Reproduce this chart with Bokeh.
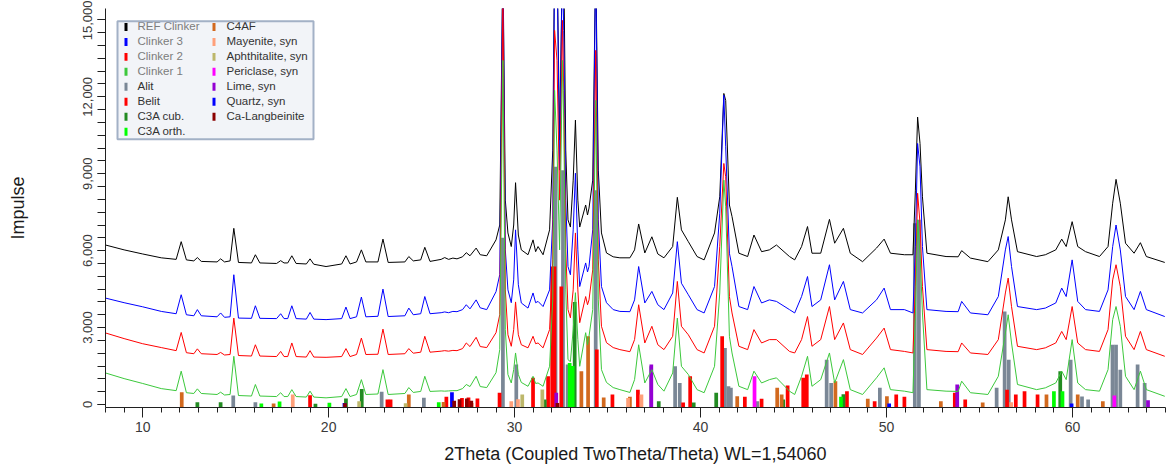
from bokeh.plotting import figure
from bokeh.models import Range1d, SingleIntervalTicker, NumeralTickFormatter
from bokeh.core.properties import value
from bokeh.embed import file_html
from bokeh.resources import INLINE

# ---------------- data ----------------
TWO_THETA = [
    8.0, 9.0, 10.0, 11.0, 11.8, 12.07, 12.35, 12.75, 12.94, 13.15,
    14.0, 14.19, 14.4, 14.7, 14.9, 15.15, 15.85, 16.06, 16.3, 17.2,
    17.42, 17.6, 17.8, 18.02, 18.25, 18.8, 19.0, 19.2, 19.86, 20.7,
    20.93, 21.15, 21.5, 21.76, 22.0, 22.65, 22.92, 23.2, 24.1, 24.31,
    24.55, 24.95, 25.17, 25.45, 26.05, 26.24, 26.45, 26.68, 26.9, 27.2,
    27.4, 27.6, 27.93, 28.15, 28.5, 29.0, 29.2, 29.37, 29.5, 29.64,
    29.82, 29.95, 30.05, 30.2, 30.36, 30.72, 30.99, 31.13, 31.26, 31.53,
    31.88, 32.05, 32.15, 32.28, 32.42, 32.57, 32.64, 32.75, 32.87, 33.0,
    33.15, 33.27, 33.4, 33.5, 33.82, 33.92, 34.0, 34.2, 34.36, 34.5,
    34.67, 34.94, 35.3, 35.66, 36.2, 36.45, 36.67, 37.0, 37.38, 37.7,
    38.03, 38.5, 38.75, 38.97, 39.34, 39.81, 40.19, 40.75, 41.03, 41.25,
    41.35, 41.55, 41.69, 42.06, 42.53, 42.87, 43.28, 43.7, 44.08, 44.78,
    45.06, 45.43, 45.75, 45.99, 46.46, 46.93, 47.21, 47.68, 48.05, 48.71,
    49.46, 49.87, 50.21, 50.96, 51.42, 51.55, 51.67, 51.8, 51.93, 52.17,
    53.2, 53.85, 54.04, 54.51, 55.45, 56.01, 56.39, 56.54, 56.72, 57.04,
    58.07, 58.54, 59.1, 59.42, 59.66, 59.98, 60.28, 60.7, 61.45, 61.91,
    62.16, 62.34, 62.57, 62.85, 63.31, 63.65, 63.97, 64.96,
]

REF_CLINKER = [
    6220, 6030, 5870, 5720, 5660, 6350, 5640, 5600, 5730, 5580,
    5560, 5680, 5560, 5600, 6870, 5540, 5520, 5840, 5520, 5500,
    5610, 5520, 5520, 5800, 5500, 5480, 5680, 5470, 5380, 5480,
    5800, 5480, 5560, 6030, 5560, 5560, 6450, 5540, 5560, 5770,
    5600, 5640, 6130, 5580, 5660, 5730, 5660, 5710, 5680, 5760,
    5920, 5800, 6100, 5840, 5800, 6420, 7000, 17500, 7970, 6690,
    6160, 7000, 8650, 6610, 6030, 5840, 6420, 5960, 6160, 5840,
    6810, 9920, 17500, 17500, 10310, 17500, 17500, 9920, 7200, 6920,
    8750, 11090, 7970, 6920, 7780, 7390, 7660, 8750, 17500, 9140,
    6690, 5910, 5760, 5720, 5720, 6030, 7040, 5910, 6540, 5870,
    5720, 6160, 8080, 6810, 6350, 5770, 5640, 6690, 8100, 12130,
    11860, 7780, 7330, 5900, 5770, 6610, 5960, 6030, 6220, 5770,
    5640, 6160, 6940, 5900, 5900, 7220, 6290, 6870, 5900, 5570,
    6100, 6450, 5900, 5840, 5840, 8360, 11210, 10180, 8100, 5900,
    5770, 5760, 6000, 5710, 5570, 6030, 7200, 8100, 7200, 5960,
    5770, 5840, 6030, 6450, 6160, 7130, 6160, 5960, 5770, 6160,
    7850, 8780, 7850, 6290, 5900, 6310, 5770, 5540,
]

CLINKER_3 = [
    4150, 3970, 3810, 3630, 3540, 4280, 3500, 3460, 3700, 3460,
    3420, 3570, 3400, 3420, 5060, 3370, 3360, 3850, 3360, 3350,
    3540, 3350, 3350, 3850, 3350, 3330, 3590, 3330, 3310, 3350,
    3800, 3350, 3420, 4190, 3420, 3440, 4500, 3430, 3460, 3760,
    3500, 3540, 4210, 3540, 3580, 3610, 3580, 3630, 3620, 3700,
    3890, 3730, 4080, 3770, 3700, 4400, 5060, 17500, 6030, 4470,
    3970, 4860, 6810, 4670, 3960, 3760, 4350, 3970, 4020, 3820,
    4470, 7200, 17500, 17500, 9140, 17500, 14590, 7970, 5380, 5060,
    6810, 9020, 6030, 4600, 5520, 5170, 5380, 6810, 17500, 7200,
    4600, 3970, 3700, 3630, 3620, 4080, 5380, 3960, 4410, 3890,
    3700, 4350, 6350, 4730, 4280, 3700, 3570, 4600, 7460, 12060,
    10050, 5900, 5380, 3820, 3700, 4600, 3960, 4080, 4020, 3700,
    3570, 4210, 4990, 3820, 4080, 5450, 4080, 4800, 3700, 3570,
    4080, 4540, 3700, 3700, 3570, 6160, 10180, 9270, 6160, 3700,
    3630, 3620, 4020, 3570, 3500, 4210, 6030, 6550, 5380, 3820,
    3700, 3760, 3960, 4540, 4210, 5640, 4020, 3700, 3630, 4470,
    6160, 7000, 6030, 4210, 3700, 4410, 3700, 3430,
]

CLINKER_2 = [
    2790, 2570, 2370, 2220, 2100, 2810, 2020, 1980, 2170, 1980,
    1950, 2030, 1930, 1950, 3370, 1910, 1890, 2330, 1890, 1870,
    2070, 1870, 1870, 2400, 1870, 1850, 2100, 1850, 1840, 1870,
    2180, 1870, 1950, 2590, 1950, 1960, 2940, 1950, 1980, 2180,
    2000, 2040, 2660, 2040, 2080, 2100, 2080, 2110, 2100, 2180,
    2400, 2260, 2620, 2260, 2220, 2800, 3500, 16000, 4470, 2720,
    2270, 2920, 4000, 2720, 2330, 2210, 2660, 2370, 2400, 2210,
    2920, 5640, 14590, 13420, 7970, 14980, 12250, 6030, 3700, 3380,
    4470, 6690, 4470, 3190, 4210, 3890, 4080, 5250, 13810, 5640,
    3050, 2410, 2220, 2140, 2060, 2530, 3890, 2400, 3050, 2330,
    2140, 2660, 4800, 3050, 2720, 2140, 2010, 3050, 6160, 9400,
    8880, 4210, 3570, 2270, 2140, 2920, 2400, 2530, 2530, 2070,
    2010, 2530, 3430, 2270, 2530, 3820, 2530, 3180, 2140, 1950,
    2590, 2980, 2140, 2070, 2010, 4600, 8240, 7070, 4600, 2140,
    2070, 2060, 2400, 2010, 1950, 2530, 4350, 4930, 3820, 2270,
    2140, 2210, 2400, 2850, 2530, 3820, 2400, 2140, 2070, 2920,
    4860, 5450, 4600, 2660, 2140, 2850, 2140, 1880,
]

CLINKER_1 = [
    1230, 1010, 820, 620, 540, 1300, 460, 430, 610, 430,
    390, 480, 370, 390, 1880, 350, 330, 780, 330, 310,
    460, 310, 310, 580, 310, 290, 520, 290, 260, 310,
    620, 310, 390, 970, 390, 410, 1360, 390, 430, 660,
    470, 510, 1100, 510, 530, 520, 530, 540, 540, 620,
    780, 700, 1100, 700, 660, 1240, 2140, 13420, 2920, 1170,
    840, 1360, 2010, 1170, 860, 710, 1100, 820, 840, 710,
    1490, 4080, 12250, 9920, 6030, 13420, 11090, 4470, 1750, 1670,
    2920, 4360, 2530, 1490, 2800, 2330, 2660, 3700, 11860, 4080,
    1360, 860, 660, 580, 470, 970, 2330, 840, 1360, 780,
    520, 1230, 3370, 1490, 1170, 580, 460, 1490, 4350, 8750,
    7710, 2660, 2010, 710, 580, 1300, 840, 970, 1040, 520,
    390, 1100, 1880, 710, 970, 2010, 840, 1750, 580, 390,
    1040, 1430, 580, 520, 460, 3570, 7200, 5900, 3570, 580,
    520, 510, 910, 460, 390, 1100, 2790, 3500, 2400, 780,
    580, 650, 840, 1300, 970, 2530, 840, 580, 520, 1360,
    3310, 3820, 3050, 1100, 580, 1300, 580, 320,
]

# reference (stick) patterns: positions and relative heights
ALIT_X = [14.87, 16.06, 22.85, 25.12, 29.37, 30.09, 32.2, 32.6, 32.85, 34.36,
          37.34, 38.63, 38.88, 41.31, 41.5, 41.63, 43.05, 46.78, 47.02, 49.64,
          51.52, 51.74, 55.92, 56.35, 56.57, 59.9, 60.51, 60.84, 62.15, 62.34,
          62.57, 63.5, 63.88]
ALIT_H = [350, 90, 494, 260, 6500, 1560, 9270, 9140, 1560, 8360,
          1490, 1490, 840, 2200, 710, 650, 130, 1750, 840, 650,
          7070, 7200, 650, 3630, 1750, 1750, 310, 195, 2330, 2330,
          1360, 1560, 840]
BELIT_X = [19.0, 23.16, 23.33, 26.33, 27.17, 27.52, 28.0, 29.19, 30.99, 31.8,
           32.02, 32.14, 32.51, 34.42, 35.26, 36.63, 39.06, 39.44, 41.16, 42.38,
           43.28, 44.68, 45.52, 45.71, 47.87, 49.36, 50.52, 50.96, 53.67, 54.23,
           56.48, 56.95, 57.42, 58.12]
BELIT_H = [360, 195, 195, 300, 250, 270, 230, 455, 1040, 1100,
           5380, 5380, 4600, 2140, 390, 580, 80, 1100, 2660, 300,
           220, 740, 1040, 1170, 520, 130, 390, 300, 455, 195,
           580, 390, 520, 390]
C3A_CUB_X = [12.94, 14.19, 19.29, 20.93, 21.78, 31.62, 33.23, 37.75, 39.63, 40.84,
             44.44, 47.68, 59.34]
C3A_CUB_H = [90, 90, 30, 233, 607, 195, 4000, 130, 80, 460, 195, 400, 1300]
C3A_ORTH_X = [16.38, 17.36, 20.04, 25.92, 32.96, 33.12, 47.55, 59.0, 59.46]
C3A_ORTH_H = [40, 117, 65, 90, 1620, 1500, 300, 520, 520]
C4AF_X = [12.1, 17.04, 24.31, 26.18, 33.59, 33.95, 34.79, 36.2, 41.97, 44.12,
          44.36, 47.25, 48.99, 50.02, 52.92, 55.17, 58.6, 60.28, 61.63]
C4AF_H = [480, 40, 390, 100, 1300, 2660, 270, 300, 320, 650,
          390, 910, 220, 320, 130, 80, 390, 390, 130]
MAYENITE_X = [18.07, 27.7, 29.82, 30.18, 36.1, 36.82, 56.7]
MAYENITE_H = [390, 60, 130, 200, 250, 390, 90]
APHTHITALITE_X = [21.64, 24.14, 30.41, 31.49]
APHTHITALITE_H = [130, 50, 390, 584]
PERICLASE_X = [42.9, 62.25]
PERICLASE_H = [1100, 350]
LIME_X = [32.24, 37.35, 53.8, 64.06]
LIME_H = [460, 1560, 780, 170]
QUARTZ_X = [20.85, 26.63, 50.14, 59.95]
QUARTZ_H = [60, 478, 40, 40]
LANGBEINITE_X = [20.88, 26.75, 27.04, 27.43, 27.67, 32.3]
LANGBEINITE_H = [50, 150, 200, 230, 150, 60]

SCANS = [
    ("REF Clinker", REF_CLINKER, "#000000"),
    ("Clinker 3", CLINKER_3, "#0000FF"),
    ("Clinker 2", CLINKER_2, "#FF0000"),
    ("Clinker 1", CLINKER_1, "#3CC83C"),
]
PHASES = [
    ("Alit", ALIT_X, ALIT_H, "#7A8796"),
    ("Belit", BELIT_X, BELIT_H, "#FF0000"),
    ("C3A cub.", C3A_CUB_X, C3A_CUB_H, "#228B22"),
    ("C3A orth.", C3A_ORTH_X, C3A_ORTH_H, "#00FF00"),
    ("C4AF", C4AF_X, C4AF_H, "#D2691E"),
    ("Mayenite, syn", MAYENITE_X, MAYENITE_H, "#FFA07A"),
    ("Aphthitalite, syn", APHTHITALITE_X, APHTHITALITE_H, "#BDB76B"),
    ("Periclase, syn", PERICLASE_X, PERICLASE_H, "#FF00FF"),
    ("Lime, syn", LIME_X, LIME_H, "#9400D3"),
    ("Quartz, syn", QUARTZ_X, QUARTZ_H, "#0000FF"),
    ("Ca-Langbeinite", LANGBEINITE_X, LANGBEINITE_H, "#8B0000"),
]

X_START, X_END = 8.0, 65.0
Y_START, Y_END = -117, 15443
FONT = "Liberation Sans"

p = figure(width=1167, height=466,
           x_range=Range1d(X_START, X_END), y_range=Range1d(Y_START, Y_END),
           output_backend="svg", toolbar_location=None,
           min_border_left=105, min_border_right=2,
           min_border_top=8, min_border_bottom=58)
p.background_fill_color = "white"
p.border_fill_color = "white"
p.outline_line_color = None
p.xgrid.visible = False
p.ygrid.visible = False

# sticks
for name, xs, hs, col in PHASES:
    p.vbar(x=xs, top=hs, bottom=Y_START, width=0.2,
           fill_color=col, line_color=None)

# scans
for name, ys, col in SCANS:
    p.line(TWO_THETA, ys, line_color=col, line_width=1)

# axes
p.xaxis.ticker = SingleIntervalTicker(interval=10, num_minor_ticks=10)
p.yaxis.ticker = SingleIntervalTicker(interval=3000, num_minor_ticks=6)
p.yaxis.formatter = NumeralTickFormatter(format="0,0")
p.yaxis.major_label_orientation = "vertical"

p.xaxis.axis_label = "2Theta (Coupled TwoTheta/Theta) WL=1,54060"
p.yaxis.axis_label = "Impulse"
for ax in (p.xaxis, p.yaxis):
    ax.axis_line_color = "#202020"
    ax.major_tick_line_color = "#202020"
    ax.minor_tick_line_color = "#202020"
    ax.major_tick_in = 0
    ax.minor_tick_in = 0
    ax.axis_label_text_font = FONT
    ax.axis_label_text_font_size = "18px"
    ax.axis_label_text_font_style = "normal"
    ax.axis_label_text_color = "#1a1a1a"
    ax.major_label_text_font = FONT
    ax.major_label_text_color = "#3a3a3a"

p.xaxis.major_tick_out = 10
p.xaxis.minor_tick_out = 5
p.xaxis.major_label_text_font_size = "14px"
p.xaxis.major_label_standoff = 4
p.xaxis.axis_label_standoff = 9

p.yaxis.major_tick_out = 8
p.yaxis.minor_tick_out = 8
p.yaxis.major_label_text_font_size = "13px"
p.yaxis.major_label_standoff = 5
p.yaxis.axis_label_standoff = 53

# ---------------- legend box (placed in pixel terms) ----------------
def px_x(px):
    return X_START + (px - 105) * (X_END - X_START) / 1060.0

def py_y(py):
    return Y_START + (408 - py) * (Y_END - Y_START) / 400.0

p.quad(left=px_x(117), right=px_x(313), top=py_y(20.7), bottom=py_y(139),
       fill_color="#F2F4F8", line_color=None)

entries = [(n, c) for n, _, c in SCANS] + [(n, c) for n, _, _, c in PHASES]
mx, my, mc, tx, ty, tt, tc = [], [], [], [], [], [], []
for i, (name, col) in enumerate(entries):
    colno, row = divmod(i, 8)
    yc = 25.5 + 15.0 * row
    mx.append(px_x(125.5 if colno == 0 else 213.5))
    my.append(py_y(yc + 1))
    mc.append(col)
    tx.append(px_x(137 if colno == 0 else 226))
    ty.append(py_y(yc))
    tt.append(name)
    tc.append("#7c7c7c" if i < 4 else "#333333")

p.rect(x=mx, y=my, width=3 * (X_END - X_START) / 1060.0,
       height=8 * (Y_END - Y_START) / 400.0, fill_color=mc, line_color=None)
p.text(x=tx, y=ty, text=tt, text_color=tc, text_font=value(FONT),
       text_font_size="11.5px", text_baseline="middle", text_align="left")
# mask the part of the first row that is scrolled out of the box
p.quad(left=px_x(115), right=px_x(315), top=py_y(8), bottom=py_y(21.5),
       fill_color="white", line_color=None)
p.quad(left=px_x(117), right=px_x(313), top=py_y(20.7), bottom=py_y(139),
       fill_color=None, line_color="#A3B1C6", line_width=2)

open("out.html", "w").write(file_html(p, INLINE))
